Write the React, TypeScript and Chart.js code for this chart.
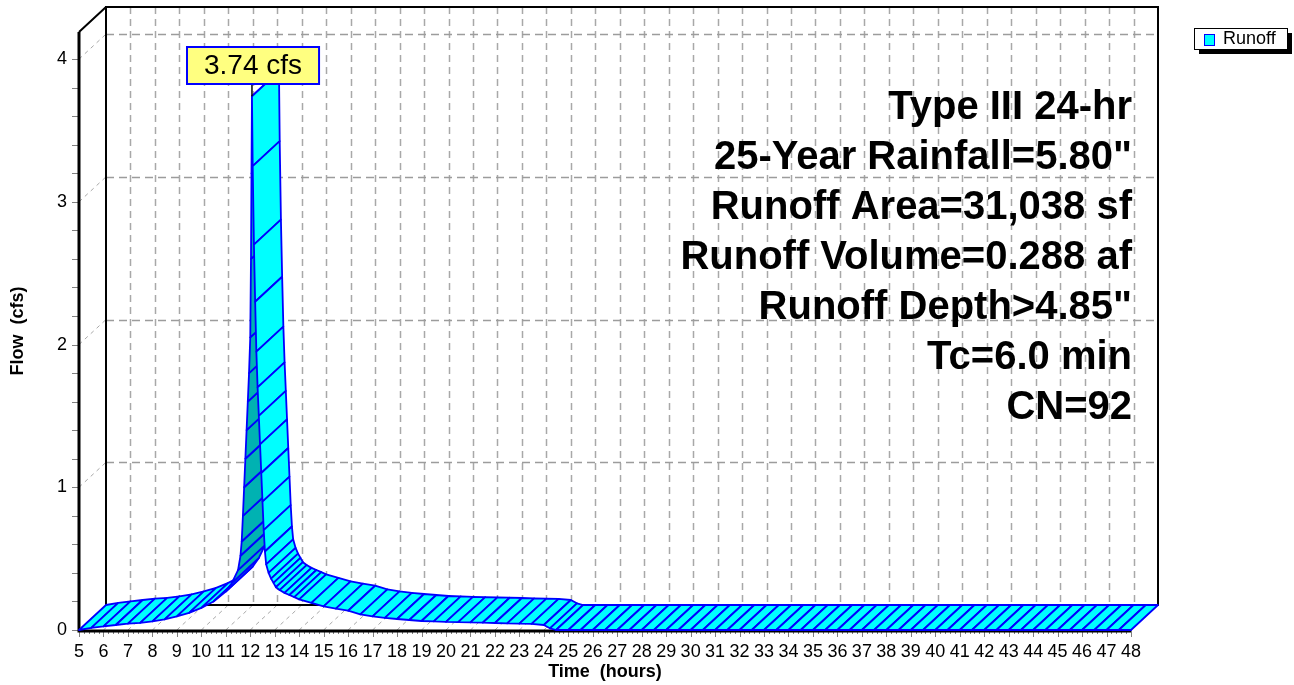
import React, { useEffect, useRef } from "react";
import { Chart, registerables } from "chart.js";

Chart.register(...registerables);

// ---------- data ----------
const times: number[] = [
  5, 5.5, 6, 6.5, 7, 7.5, 8, 8.5, 9, 9.5, 10, 10.5, 11, 11.25, 11.5, 11.6, 11.65,
  11.7, 11.75, 11.8, 11.85, 11.9, 11.95, 12.0, 12.03, 12.05, 12.07, 12.1, 12.15,
  12.2, 12.25, 12.3, 12.35, 12.4, 12.45, 12.5, 12.55, 12.6, 12.65, 12.75, 12.85,
  12.95, 13.05, 13.2, 13.4, 13.6, 13.8, 14.0, 14.5, 15, 15.5, 16, 16.5, 17, 17.5,
  18, 18.5, 19, 19.5, 20, 20.5, 21, 21.5, 22, 22.5, 23, 23.5, 24, 24.25, 24.5, 25,
  25.5, 26, 26.5, 27, 27.5, 28, 28.5, 29, 29.5, 30, 30.5, 31, 31.5, 32, 32.5, 33,
  33.5, 34, 34.5, 35, 35.5, 36, 36.5, 37, 37.5, 38, 38.5, 39, 39.5, 40, 40.5, 41,
  41.5, 42, 42.5, 43, 43.5, 44, 44.5, 45, 45.5, 46, 46.5, 47, 47.5, 48,
];
const flows: number[] = [
  0.0, 0.015, 0.025, 0.035, 0.045, 0.05, 0.06, 0.075, 0.095, 0.12, 0.155, 0.2, 0.27,
  0.33, 0.42, 0.52, 0.62, 0.8, 1.0, 1.2, 1.4, 1.6, 1.8, 2.05, 2.6, 3.2, 3.74, 3.25,
  2.7, 2.3, 1.95, 1.7, 1.5, 1.3, 1.1, 0.9, 0.7, 0.55, 0.46, 0.4, 0.36, 0.33, 0.3,
  0.28, 0.26, 0.245, 0.23, 0.215, 0.19, 0.165, 0.15, 0.135, 0.11, 0.095, 0.085,
  0.077, 0.07, 0.063, 0.06, 0.057, 0.055, 0.053, 0.051, 0.049, 0.047, 0.045, 0.043,
  0.035, 0.012, 0, 0, 0, 0, 0, 0, 0, 0, 0, 0, 0, 0, 0, 0, 0, 0, 0, 0, 0, 0, 0, 0, 0,
  0, 0, 0, 0, 0, 0, 0, 0, 0, 0, 0, 0, 0, 0, 0, 0, 0, 0, 0, 0, 0, 0, 0, 0, 0,
];
const xMin = 5;
const xMax = 48;
const yMin = 0;
const yMax = 4.19;
const yTickValues: number[] = [0, 1, 2, 3, 4];
const seriesName = "Runoff";
const peakLabel = "3.74 cfs";
const infoLines: string[] = [
  "Type III 24-hr",
  '25-Year Rainfall=5.80"',
  "Runoff Area=31,038 sf",
  "Runoff Volume=0.288 af",
  'Runoff Depth>4.85"',
  "Tc=6.0 min",
  "CN=92",
];
const xTitle = "Time  (hours)";
const yTitle = "Flow  (cfs)";

// ---------- style ----------
const FONT = "Arial, 'Liberation Sans', sans-serif";
const DX = 27;
const DY = -25;
const CYAN = "#00ffff";
const TEAL = "#00b2b2";
const BLUE = "#0000ff";
const GRID = "#a8a8a8";

const hydroPlugin = {
  id: "hydro3d",
  beforeDatasetsDraw(chart: any) {
    const { ctx, scales } = chart;
    const x = scales.x;
    const y = scales.y;
    const x0 = x.getPixelForValue(xMin);
    const x1 = x.getPixelForValue(xMax);
    const y0 = y.getPixelForValue(yMin);
    const yT = y.getPixelForValue(yMax);
    ctx.save();
    // back-plane vertical dashed grid
    ctx.strokeStyle = GRID;
    ctx.lineWidth = 1.5;
    ctx.setLineDash([7, 5]);
    x.ticks.forEach((tk: any) => {
      if (tk.value <= xMin || tk.value >= xMax) return;
      const px = Math.round(x.getPixelForValue(tk.value) + DX) + 0.5;
      ctx.beginPath();
      ctx.moveTo(px, yT + DY);
      ctx.lineTo(px, y0 + DY);
      ctx.stroke();
    });
    // back-plane horizontal dashed grid
    ctx.setLineDash([8, 5]);
    ctx.strokeStyle = "#9c9c9c";
    yTickValues.forEach((v) => {
      if (v <= yMin) return;
      const py = Math.round(y.getPixelForValue(v) + DY) + 0.5;
      ctx.beginPath();
      ctx.moveTo(x0 + DX, py);
      ctx.lineTo(x1 + DX, py);
      ctx.stroke();
    });
    // diagonal dashed connectors (left wall and floor)
    ctx.setLineDash([4, 4]);
    ctx.strokeStyle = GRID;
    ctx.lineWidth = 1;
    yTickValues.forEach((v) => {
      const py = y.getPixelForValue(v);
      ctx.beginPath();
      ctx.moveTo(x0, py);
      ctx.lineTo(x0 + DX, py + DY);
      ctx.stroke();
    });
    x.ticks.forEach((tk: any) => {
      const px = x.getPixelForValue(tk.value);
      ctx.beginPath();
      ctx.moveTo(px, y0);
      ctx.lineTo(px + DX, y0 + DY);
      ctx.stroke();
    });
    // back frame
    ctx.setLineDash([]);
    ctx.strokeStyle = "#000";
    ctx.lineWidth = 2;
    ctx.beginPath();
    ctx.moveTo(x0 + DX, y0 + DY);
    ctx.lineTo(x0 + DX, yT + DY);
    ctx.lineTo(x1 + DX, yT + DY);
    ctx.lineTo(x1 + DX, y0 + DY);
    ctx.lineTo(x0 + DX, y0 + DY);
    ctx.moveTo(x0, yT);
    ctx.lineTo(x0 + DX, yT + DY);
    ctx.stroke();
    // tick marks
    ctx.strokeStyle = "#808080";
    ctx.lineWidth = 1;
    for (let i = 0; i <= Math.round((xMax - xMin) * 5); i++) {
      const v = xMin + i * 0.2;
      const major = i % 5 === 0;
      const px = Math.round(x.getPixelForValue(v)) + 0.5;
      ctx.beginPath();
      ctx.moveTo(px, y0);
      ctx.lineTo(px, y0 + (major ? 7 : 4));
      ctx.stroke();
    }
    for (let i = 0; i <= Math.floor((yMax - yMin) * 5); i++) {
      const v = yMin + i * 0.2;
      const py = Math.round(y.getPixelForValue(v)) + 0.5;
      ctx.beginPath();
      ctx.moveTo(x0 - 7, py);
      ctx.lineTo(x0, py);
      ctx.stroke();
    }
    // front axes
    ctx.strokeStyle = "#000";
    ctx.lineWidth = 3;
    ctx.beginPath();
    ctx.moveTo(x0, yT);
    ctx.lineTo(x0, y0 + 1);
    ctx.lineTo(x1, y0 + 1);
    ctx.stroke();
    ctx.restore();
  },
  afterDatasetsDraw(chart: any) {
    const { ctx } = chart;
    const meta = chart.getDatasetMeta(0);
    const pts = meta.data.map((p: any) => ({ x: p.x, y: p.y }));
    ctx.save();
    ctx.lineJoin = "round";
    ctx.lineCap = "round";
    for (let i = 0; i < pts.length - 1; i++) {
      const f0 = pts[i];
      const f1 = pts[i + 1];
      const sx = f1.x - f0.x;
      const sy = f0.y - f1.y;
      const cross = sx * -DY - sy * DX;
      ctx.beginPath();
      ctx.moveTo(f0.x, f0.y);
      ctx.lineTo(f1.x, f1.y);
      ctx.lineTo(f1.x + DX, f1.y + DY);
      ctx.lineTo(f0.x + DX, f0.y + DY);
      ctx.closePath();
      ctx.fillStyle = cross >= 0 ? CYAN : TEAL;
      ctx.fill();
      ctx.strokeStyle = BLUE;
      ctx.lineWidth = 1.8;
      ctx.stroke();
    }
    ctx.restore();

    // peak label
    let pi = 0;
    flows.forEach((f, i) => {
      if (f > flows[pi]) pi = i;
    });
    const p = pts[pi];
    ctx.save();
    ctx.font = `28px ${FONT}`;
    const tw = ctx.measureText(peakLabel).width;
    const bw = tw + 34;
    const bh = 37;
    const bx = Math.round(p.x - bw / 2 + 1);
    const by = Math.round(p.y - 12 - bh);
    ctx.strokeStyle = "#000";
    ctx.lineWidth = 1.5;
    ctx.beginPath();
    ctx.moveTo(p.x, by + bh);
    ctx.lineTo(p.x, p.y);
    ctx.stroke();
    ctx.fillStyle = "#ffff80";
    ctx.fillRect(bx, by, bw, bh);
    ctx.strokeStyle = BLUE;
    ctx.lineWidth = 2;
    ctx.strokeRect(bx, by, bw, bh);
    ctx.fillStyle = "#000";
    ctx.textAlign = "center";
    ctx.textBaseline = "middle";
    ctx.fillText(peakLabel, bx + bw / 2, by + bh / 2 + 1);
    ctx.restore();
  },
  afterDraw(chart: any) {
    const { ctx, chartArea } = chart;
    ctx.save();
    // info text block
    ctx.font = `bold 40px ${FONT}`;
    ctx.fillStyle = "#000";
    ctx.textAlign = "right";
    ctx.textBaseline = "alphabetic";
    infoLines.forEach((line, i) => {
      ctx.fillText(line, chartArea.right + 1, chartArea.top + 87 + i * 50);
    });
    // legend
    const lx = chart.width - 100;
    const ly = 28;
    const lw = 93;
    const lh = 21;
    ctx.fillStyle = "#000";
    ctx.fillRect(lx + 5, ly + 5, lw, lh);
    ctx.fillStyle = "#fff";
    ctx.fillRect(lx, ly, lw, lh);
    ctx.strokeStyle = "#000";
    ctx.lineWidth = 1;
    ctx.strokeRect(lx + 0.5, ly + 0.5, lw, lh);
    ctx.fillStyle = CYAN;
    ctx.fillRect(lx + 10, ly + 6, 10, 11);
    ctx.strokeStyle = BLUE;
    ctx.strokeRect(lx + 10.5, ly + 6.5, 10, 11);
    ctx.fillStyle = "#000";
    ctx.font = `18px ${FONT}`;
    ctx.textAlign = "left";
    ctx.textBaseline = "middle";
    ctx.fillText(seriesName, lx + 29, ly + lh / 2 + 1);
    ctx.restore();
  },
};

export default function App() {
  const ref = useRef<HTMLCanvasElement | null>(null);
  useEffect(() => {
    if (!ref.current) return;
    const chart = new Chart(ref.current, {
      type: "line",
      data: {
        datasets: [
          {
            label: seriesName,
            data: times.map((t, i) => ({ x: t, y: flows[i] })),
            borderColor: "rgba(0,0,0,0)",
            backgroundColor: "rgba(0,0,0,0)",
            borderWidth: 0,
            pointRadius: 0,
            showLine: false,
          },
        ],
      },
      options: {
        responsive: false,
        animation: false,
        devicePixelRatio: 1,
        layout: { padding: { left: 0, right: 163, top: 32, bottom: 0 } },
        plugins: {
          legend: { display: false },
          tooltip: { enabled: false },
        },
        scales: {
          x: {
            type: "linear",
            min: xMin,
            max: xMax,
            afterFit: (s: any) => {
              s.height = 55;
            },
            grid: { display: false, drawTicks: false },
            border: { display: false },
            ticks: {
              stepSize: 1,
              autoSkip: false,
              maxRotation: 0,
              minRotation: 0,
              padding: 11,
              color: "#000",
              font: { family: FONT, size: 18 },
              callback: (v: any) => String(v),
            },
            title: {
              display: true,
              text: xTitle,
              color: "#000",
              font: { family: FONT, size: 18, weight: "bold" },
              padding: { top: 0, bottom: 2 },
            },
          },
          y: {
            type: "linear",
            min: yMin,
            max: yMax,
            afterFit: (s: any) => {
              s.width = 79;
            },
            grid: { display: false, drawTicks: false },
            border: { display: false },
            ticks: {
              stepSize: 1,
              includeBounds: false,
              padding: 12,
              color: "#000",
              font: { family: FONT, size: 18 },
              callback: (v: any) => String(v),
            },
            title: {
              display: true,
              text: yTitle,
              color: "#000",
              font: { family: FONT, size: 18, weight: "bold" },
              padding: { top: 7, bottom: 0 },
            },
          },
        },
      } as any,
      plugins: [hydroPlugin],
    });
    return () => chart.destroy();
  }, []);
  return (
    <div style={{ position: "absolute", left: 0, top: 0, width: 1294, height: 685 }}>
      <canvas ref={ref} width={1294} height={685} style={{ display: "block" }} />
    </div>
  );
}
